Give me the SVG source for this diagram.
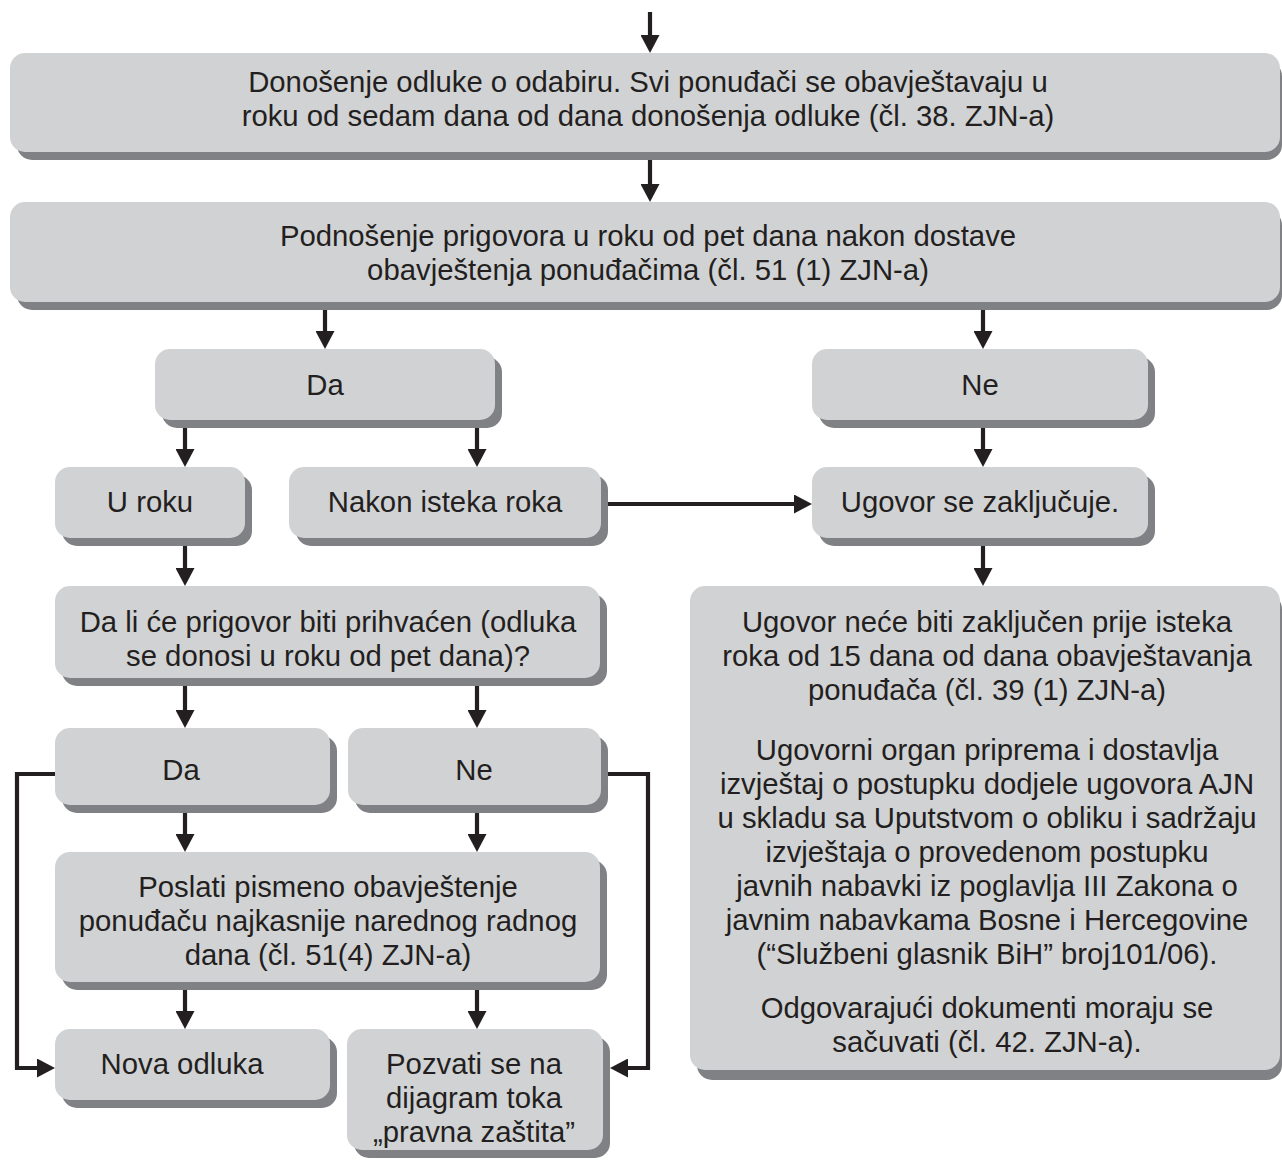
<svg xmlns="http://www.w3.org/2000/svg" width="1282" height="1161" viewBox="0 0 1282 1161">
  <style>
    .box { fill: #d1d2d4; }
    .shadow { fill: #808184; }
    .t { font-family: "Liberation Sans", Arial, sans-serif; font-size: 29.3px; fill: #231f20; text-anchor: middle; }
    .ln { stroke: #231f20; stroke-width: 4.2; fill: none; }
  </style>
  <defs>
    <!-- arrowhead: tip sits 10px past the line end so the butt cap stays hidden -->
    <marker id="ah" viewBox="0 0 18 19" refX="8" refY="9.5" markerWidth="18" markerHeight="19" markerUnits="userSpaceOnUse" orient="auto">
      <path d="M0,0 L18,9.5 L0,19 Z" fill="#231f20"/>
    </marker>
  </defs>
  <rect width="1282" height="1161" fill="#ffffff"/>

  <!-- connectors -->
  <g id="connectors">
    <line class="ln" x1="650" y1="12" x2="650" y2="43" marker-end="url(#ah)"/>
    <line class="ln" x1="650" y1="160" x2="650" y2="192" marker-end="url(#ah)"/>
    <line class="ln" x1="325" y1="310" x2="325" y2="339" marker-end="url(#ah)"/>
    <line class="ln" x1="983" y1="310" x2="983" y2="339" marker-end="url(#ah)"/>
    <line class="ln" x1="185" y1="428" x2="185" y2="457" marker-end="url(#ah)"/>
    <line class="ln" x1="477" y1="428" x2="477" y2="457" marker-end="url(#ah)"/>
    <line class="ln" x1="983" y1="428" x2="983" y2="457" marker-end="url(#ah)"/>
    <line class="ln" x1="608" y1="504" x2="802" y2="504" marker-end="url(#ah)"/>
    <line class="ln" x1="185" y1="546" x2="185" y2="576" marker-end="url(#ah)"/>
    <line class="ln" x1="983" y1="546" x2="983" y2="576" marker-end="url(#ah)"/>
    <line class="ln" x1="185" y1="686" x2="185" y2="718" marker-end="url(#ah)"/>
    <line class="ln" x1="477" y1="686" x2="477" y2="718" marker-end="url(#ah)"/>
    <line class="ln" x1="185" y1="813" x2="185" y2="842" marker-end="url(#ah)"/>
    <line class="ln" x1="477" y1="813" x2="477" y2="842" marker-end="url(#ah)"/>
    <line class="ln" x1="185" y1="990" x2="185" y2="1019" marker-end="url(#ah)"/>
    <line class="ln" x1="477" y1="990" x2="477" y2="1019" marker-end="url(#ah)"/>
    <polyline class="ln" points="55,774 17,774 17,1068 45,1068" marker-end="url(#ah)"/>
    <polyline class="ln" points="608,774 648,774 648,1068 620,1068" marker-end="url(#ah)"/>
  </g>

  <!-- decision on selection -->
  <g id="odluka">
    <rect class="shadow" x="17" y="61" width="1265" height="99" rx="15"/>
    <rect class="box" x="10" y="53" width="1270" height="99" rx="15"/>
    <text class="t" x="648" y="92">Donošenje odluke o odabiru. Svi ponuđači se obavještavaju u</text>
    <text class="t" x="648" y="126">roku od sedam dana od dana donošenja odluke (čl. 38. ZJN-a)</text>
  </g>

  <g id="prigovor">
    <rect class="shadow" x="17" y="210" width="1265" height="100" rx="15"/>
    <rect class="box" x="10" y="202" width="1270" height="100" rx="15"/>
    <text class="t" x="648" y="246">Podnošenje prigovora u roku od pet dana nakon dostave</text>
    <text class="t" x="648" y="280">obavještenja ponuđačima (čl. 51 (1) ZJN-a)</text>
  </g>

  <g id="da1">
    <rect class="shadow" x="162" y="357" width="340" height="71" rx="15"/>
    <rect class="box" x="155" y="349" width="340" height="71" rx="15"/>
    <text class="t" x="325" y="395">Da</text>
  </g>

  <g id="ne1">
    <rect class="shadow" x="819" y="357" width="336" height="71" rx="15"/>
    <rect class="box" x="812" y="349" width="336" height="71" rx="15"/>
    <text class="t" x="980" y="395">Ne</text>
  </g>

  <g id="u-roku">
    <rect class="shadow" x="62" y="475" width="190" height="71" rx="15"/>
    <rect class="box" x="55" y="467" width="190" height="71" rx="15"/>
    <text class="t" x="150" y="512">U roku</text>
  </g>

  <g id="nakon-isteka">
    <rect class="shadow" x="296" y="475" width="312" height="71" rx="15"/>
    <rect class="box" x="289" y="467" width="312" height="71" rx="15"/>
    <text class="t" x="445" y="512">Nakon isteka roka</text>
  </g>

  <g id="ugovor-zakljucuje">
    <rect class="shadow" x="819" y="475" width="336" height="71" rx="15"/>
    <rect class="box" x="812" y="467" width="336" height="71" rx="15"/>
    <text class="t" x="980" y="512">Ugovor se zaključuje.</text>
  </g>

  <g id="pitanje">
    <rect class="shadow" x="62" y="594" width="545" height="92" rx="15"/>
    <rect class="box" x="55" y="586" width="545" height="92" rx="15"/>
    <text class="t" x="328" y="632">Da li će prigovor biti prihvaćen (odluka</text>
    <text class="t" x="328" y="666">se donosi u roku od pet dana)?</text>
  </g>

  <g id="ugovor-rok">
    <rect class="shadow" x="697" y="594" width="585" height="486" rx="15"/>
    <rect class="box" x="690" y="586" width="590" height="484" rx="15"/>
    <text class="t" x="987" y="632">Ugovor neće biti zaključen prije isteka</text>
    <text class="t" x="987" y="666">roka od 15 dana od dana obavještavanja</text>
    <text class="t" x="987" y="700">ponuđača (čl. 39 (1) ZJN-a)</text>
    <text class="t" x="987" y="760">Ugovorni organ priprema i dostavlja</text>
    <text class="t" x="987" y="794">izvještaj o postupku dodjele ugovora AJN</text>
    <text class="t" x="987" y="828">u skladu sa Uputstvom o obliku i sadržaju</text>
    <text class="t" x="987" y="862">izvještaja o provedenom postupku</text>
    <text class="t" x="987" y="896">javnih nabavki iz poglavlja III Zakona o</text>
    <text class="t" x="987" y="930">javnim nabavkama Bosne i Hercegovine</text>
    <text class="t" x="987" y="964">(“Službeni glasnik BiH” broj101/06).</text>
    <text class="t" x="987" y="1018">Odgovarajući dokumenti moraju se</text>
    <text class="t" x="987" y="1052">sačuvati (čl. 42. ZJN-a).</text>
  </g>

  <g id="da2">
    <rect class="shadow" x="62" y="736" width="275" height="77" rx="15"/>
    <rect class="box" x="55" y="728" width="275" height="77" rx="15"/>
    <text class="t" x="181" y="780">Da</text>
  </g>

  <g id="ne2">
    <rect class="shadow" x="355" y="736" width="253" height="77" rx="15"/>
    <rect class="box" x="348" y="728" width="253" height="77" rx="15"/>
    <text class="t" x="474" y="780">Ne</text>
  </g>

  <g id="poslati">
    <rect class="shadow" x="62" y="860" width="545" height="130" rx="15"/>
    <rect class="box" x="55" y="852" width="545" height="130" rx="15"/>
    <text class="t" x="328" y="897">Poslati pismeno obavještenje</text>
    <text class="t" x="328" y="931">ponuđaču najkasnije narednog radnog</text>
    <text class="t" x="328" y="965">dana (čl. 51(4) ZJN-a)</text>
  </g>

  <g id="nova-odluka">
    <rect class="shadow" x="62" y="1037" width="275" height="71" rx="15"/>
    <rect class="box" x="55" y="1029" width="275" height="71" rx="15"/>
    <text class="t" x="182" y="1074">Nova odluka</text>
  </g>

  <g id="pravna-zastita">
    <rect class="shadow" x="354" y="1037" width="256" height="121" rx="15"/>
    <rect class="box" x="347" y="1029" width="256" height="121" rx="15"/>
    <text class="t" x="474" y="1074">Pozvati se na</text>
    <text class="t" x="474" y="1108">dijagram toka</text>
    <text class="t" x="474" y="1142">„pravna zaštita”</text>
  </g>
</svg>
